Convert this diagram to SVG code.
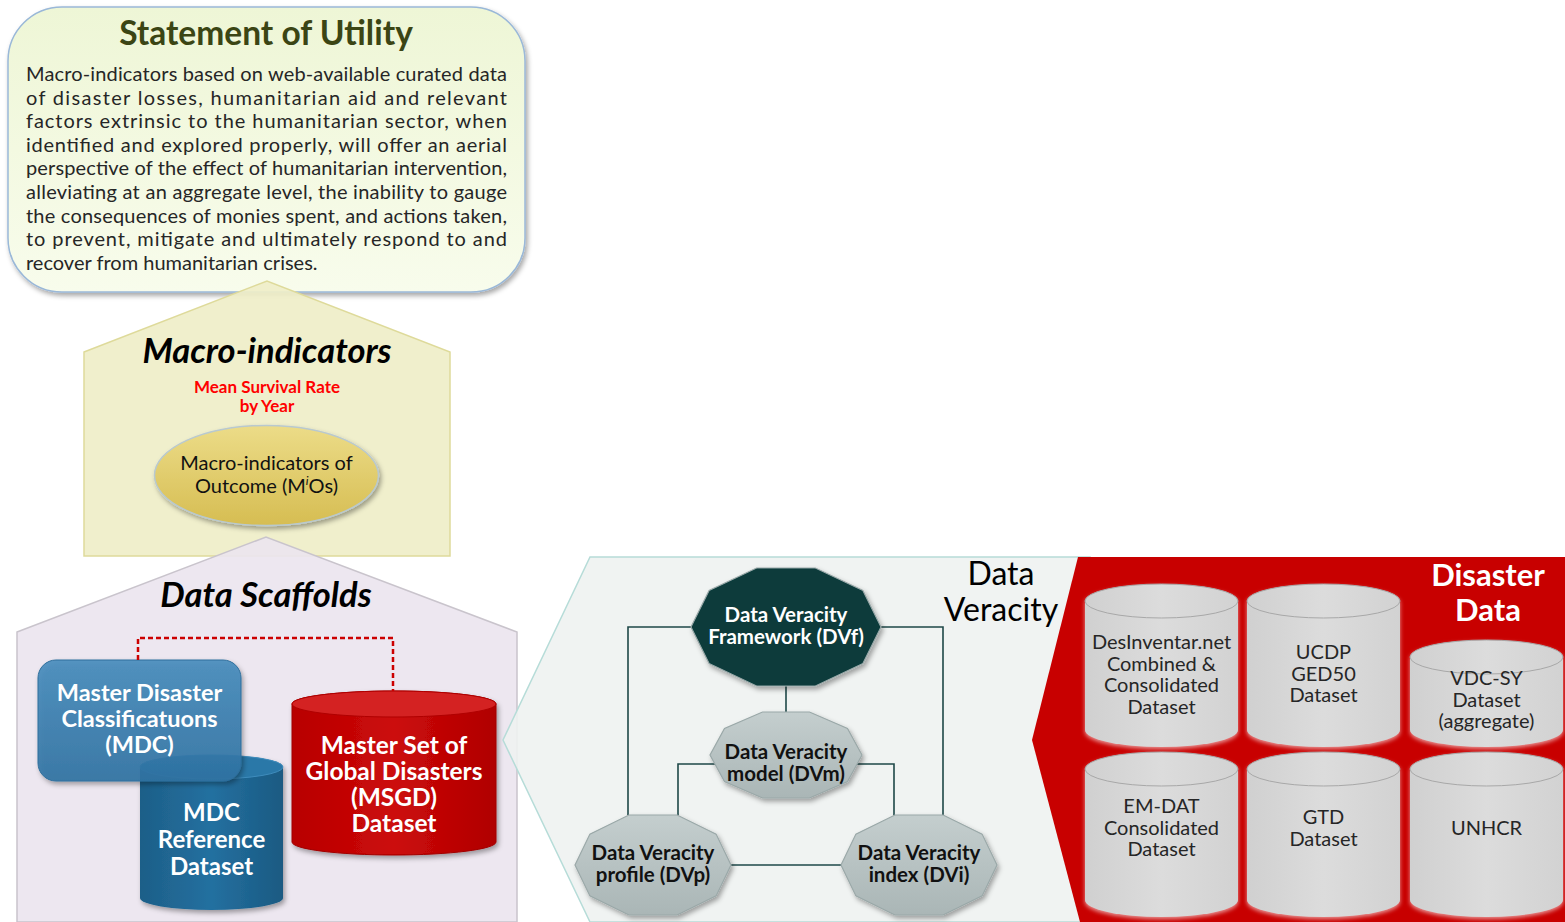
<svg xmlns="http://www.w3.org/2000/svg" width="1565" height="922" viewBox="0 0 1565 922">
<defs>
<style>
.t{font-family:Lato,"Liberation Sans",sans-serif}
.body{font-size:20px;fill:#262626}
.ttl{font-size:34.5px;font-weight:bold;font-style:italic;fill:#000;text-anchor:middle}
.wb{font-weight:bold;fill:#fff;text-anchor:middle}
.gc{font-size:20px;fill:#262626;text-anchor:middle}
.dv{font-size:20.5px;font-weight:bold;text-anchor:middle}
.cyl{fill:url(#gGray);filter:url(#glow)}
.cylTop{fill:none;stroke:#a8a8a8;stroke-width:1}
.conn{fill:none;stroke:#1e4848;stroke-width:1.6}
.deca{stroke:#9aa8a8;stroke-width:1.2;filter:url(#sh)}
</style>
<linearGradient id="gSou" x1="0" y1="0" x2="0" y2="1"><stop offset="0" stop-color="#eef6d6"/><stop offset="1" stop-color="#f8fcec"/></linearGradient>
<linearGradient id="gGold" x1="0" y1="0" x2="0" y2="1"><stop offset="0" stop-color="#ecdc88"/><stop offset="1" stop-color="#d6bd52"/></linearGradient>
<linearGradient id="gMdc" x1="0" y1="0" x2="0" y2="1"><stop offset="0" stop-color="#468cbd"/><stop offset="1" stop-color="#2f73a3"/></linearGradient>
<linearGradient id="gCylB" x1="0" y1="0" x2="1" y2="0"><stop offset="0" stop-color="#1d5f88"/><stop offset="0.5" stop-color="#2470a0"/><stop offset="1" stop-color="#1a5a82"/></linearGradient>
<linearGradient id="gCylR" x1="0" y1="0" x2="1" y2="0"><stop offset="0" stop-color="#b80000"/><stop offset="0.5" stop-color="#cc0a0a"/><stop offset="1" stop-color="#b00000"/></linearGradient>
<linearGradient id="gGray" x1="0" y1="0" x2="1" y2="0"><stop offset="0" stop-color="#d0d0d0"/><stop offset="0.5" stop-color="#dcdcdc"/><stop offset="1" stop-color="#d2d2d2"/></linearGradient>
<linearGradient id="gDeca" x1="0" y1="0" x2="0" y2="1"><stop offset="0" stop-color="#c4cece"/><stop offset="1" stop-color="#aab6b6"/></linearGradient>
<filter id="sh" x="-15%" y="-15%" width="140%" height="140%"><feDropShadow dx="2" dy="3" stdDeviation="2.5" flood-color="#000" flood-opacity="0.35"/></filter>
<filter id="glow" x="-10%" y="-10%" width="120%" height="125%"><feDropShadow dx="0" dy="2" stdDeviation="2" flood-color="#ffffff" flood-opacity="0.6"/></filter>
</defs>
<rect width="1565" height="922" fill="#ffffff"/>

<g id="statement">
<rect x="8" y="7" width="517" height="285" rx="54" ry="54" fill="url(#gSou)" stroke="#9ab8d8" stroke-width="1.5" filter="url(#sh)"/>
<text class="t" x="266" y="45" font-size="33.5" font-weight="bold" fill="#3b4514" text-anchor="middle">Statement of Utility</text>
<text class="t body" x="26" y="81" textLength="481" lengthAdjust="spacing">Macro-indicators based on web-available curated data</text>
<text class="t body" x="26" y="104.6" textLength="481" lengthAdjust="spacing">of disaster losses, humanitarian aid and relevant</text>
<text class="t body" x="26" y="128.2" textLength="481" lengthAdjust="spacing">factors extrinsic to the humanitarian sector, when</text>
<text class="t body" x="26" y="151.8" textLength="481" lengthAdjust="spacing">identified and explored properly, will offer an aerial</text>
<text class="t body" x="26" y="175.4" textLength="481" lengthAdjust="spacing">perspective of the effect of humanitarian intervention,</text>
<text class="t body" x="26" y="199" textLength="481" lengthAdjust="spacing">alleviating at an aggregate level, the inability to gauge</text>
<text class="t body" x="26" y="222.6" textLength="481" lengthAdjust="spacing">the consequences of monies spent, and actions taken,</text>
<text class="t body" x="26" y="246.2" textLength="481" lengthAdjust="spacing">to prevent, mitigate and ultimately respond to and</text>
<text class="t body" x="26" y="269.8">recover from humanitarian crises.</text>
</g>

<g id="macro-indicators">
<polygon points="84,352 267,281 450,352 450,556 84,556" fill="#efeec8" fill-opacity="0.92" stroke="#deda9a" stroke-width="1.5"/>
<text class="t ttl" x="267" y="363">Macro-indicators</text>
<text class="t" x="267" y="393" font-size="17" font-weight="bold" fill="#ff0000" text-anchor="middle">Mean Survival Rate</text>
<text class="t" x="267" y="412" font-size="17" font-weight="bold" fill="#ff0000" text-anchor="middle">by Year</text>
</g>

<g id="mios">
<ellipse cx="266.5" cy="475.5" rx="112" ry="50" fill="url(#gGold)" stroke="#b9c9cf" stroke-width="1.5" filter="url(#sh)"/>
<text class="t" x="266.5" y="470" font-size="20" fill="#111" text-anchor="middle">Macro-indicators of</text>
<text class="t" x="266.5" y="493" font-size="20" fill="#111" text-anchor="middle">Outcome (M<tspan font-size="12" font-style="italic" dy="-8">i</tspan><tspan dy="8">Os)</tspan></text>
</g>

<g id="data-scaffolds">
<polygon points="17,632 266,537 517,632 517,922 17,922" fill="#ebe5ef" fill-opacity="0.92" stroke="#c9c4cc" stroke-width="1.5"/>
<text class="t ttl" x="266" y="607">Data Scaffolds</text>
</g>

<g id="mdc-reference">
<path d="M140,767 A71.5,12 0 0 1 283,767 V898 A71.5,12 0 0 1 140,898 Z" fill="url(#gCylB)" filter="url(#sh)"/>
<ellipse cx="211.5" cy="767" rx="71.5" ry="12" fill="#2a78a8" stroke="#3f8cbc" stroke-width="1"/>
<text class="t wb" x="211.5" y="821" font-size="24">MDC</text>
<text class="t wb" x="211.5" y="848" font-size="24">Reference</text>
<text class="t wb" x="211.5" y="875" font-size="24">Dataset</text>
</g>

<g id="mdc">
<rect x="38" y="660" width="203" height="121" rx="18" ry="18" fill="url(#gMdc)" fill-opacity="0.9" stroke="#2f6f9c" stroke-width="1" filter="url(#sh)"/>
<text class="t wb" x="139.5" y="701" font-size="23.5">Master Disaster</text>
<text class="t wb" x="139.5" y="727" font-size="23.5">Classificatuons</text>
<text class="t wb" x="139.5" y="753" font-size="23.5">(MDC)</text>
</g>

<g id="msgd">
<path d="M292,704 A102,13 0 0 1 496,704 V842 A102,13 0 0 1 292,842 Z" fill="url(#gCylR)" stroke="#a00000" stroke-width="1" filter="url(#sh)"/>
<ellipse cx="394" cy="704" rx="102" ry="13" fill="#d42222" stroke="#b00000" stroke-width="1"/>
<text class="t wb" x="394" y="754" font-size="24.5">Master Set of</text>
<text class="t wb" x="394" y="780" font-size="24.5">Global Disasters</text>
<text class="t wb" x="394" y="806" font-size="24.5">(MSGD)</text>
<text class="t wb" x="394" y="832" font-size="24.5">Dataset</text>
</g>

<g id="data-veracity-region">
<polygon points="590,557 1090,557 1090,922 590,922 503,740" fill="#eef2f1" fill-opacity="0.9" stroke="#b6dcd8" stroke-width="1.5"/>
<text class="t" x="1001" y="585" font-size="32" fill="#000" text-anchor="middle">Data</text>
<text class="t" x="1001" y="621" font-size="32" fill="#000" text-anchor="middle">Veracity</text>
</g>

<g id="disaster-data-region">
<polygon points="1078,557 1565,557 1565,922 1080,922 1032,740" fill="#c80000"/>
<text class="t" x="1488" y="586" font-size="31" font-weight="bold" fill="#fff" text-anchor="middle">Disaster</text>
<text class="t" x="1488" y="621" font-size="31" font-weight="bold" fill="#fff" text-anchor="middle">Data</text>
</g>

<g id="connectors">
<path d="M138,660 V638 H393 V691" fill="none" stroke="#cc0000" stroke-width="2.5" stroke-dasharray="5,3"/>
<path class="conn" d="M691,627 H628 V815"/>
<path class="conn" d="M881,627 H943 V815"/>
<path class="conn" d="M786,686 V712"/>
<path class="conn" d="M715,764 H678 V815.5"/>
<path class="conn" d="M857,764 H894 V815.5"/>
<path class="conn" d="M731,865 H841"/>
</g>

<g id="dvf">
<polygon class="deca" points="881,627 862.9,663.5 815.4,686 756.6,686 709.1,663.5 691,627 709.1,590.5 756.6,568 815.4,568 862.9,590.5" fill="#073b3b" stroke="#1a4f4f"/>
<text class="t dv" x="786" y="622" fill="#fff">Data Veracity</text>
<text class="t dv" x="786" y="644" fill="#fff">Framework (DVf)</text>
</g>

<g id="dvm">
<polygon class="deca" points="862,755 847.5,781.6 809.5,798 762.5,798 724.5,781.6 710,755 724.5,728.4 762.5,712 809.5,712 847.5,728.4" fill="url(#gDeca)"/>
<text class="t dv" x="786" y="759" fill="#111">Data Veracity</text>
<text class="t dv" x="786" y="781" fill="#111">model (DVm)</text>
</g>

<g id="dvp">
<polygon class="deca" points="731,865 716.1,895.9 677.1,915 628.9,915 589.9,895.9 575,865 589.9,834.1 628.9,815 677.1,815 716.1,834.1" fill="url(#gDeca)"/>
<text class="t dv" x="653" y="860" fill="#111">Data Veracity</text>
<text class="t dv" x="653" y="882" fill="#111">profile (DVp)</text>
</g>

<g id="dvi">
<polygon class="deca" points="997,865 982.1,895.9 943.1,915 894.9,915 855.9,895.9 841,865 855.9,834.1 894.9,815 943.1,815 982.1,834.1" fill="url(#gDeca)"/>
<text class="t dv" x="919" y="860" fill="#111">Data Veracity</text>
<text class="t dv" x="919" y="882" fill="#111">index (DVi)</text>
</g>

<g id="desinventar">
<path class="cyl" d="M1085,601 A76.5,17 0 0 1 1238,601 V730 A76.5,17 0 0 1 1085,730 Z"/>
<ellipse class="cylTop" cx="1161.5" cy="601" rx="76.5" ry="17"/>
<text class="t gc" x="1161.5" y="649">DesInventar.net</text>
<text class="t gc" x="1161.5" y="670.5">Combined &amp;</text>
<text class="t gc" x="1161.5" y="692">Consolidated</text>
<text class="t gc" x="1161.5" y="713.5">Dataset</text>
</g>

<g id="ucdp">
<path class="cyl" d="M1247,601 A76.5,17 0 0 1 1400,601 V730 A76.5,17 0 0 1 1247,730 Z"/>
<ellipse class="cylTop" cx="1323.5" cy="601" rx="76.5" ry="17"/>
<text class="t gc" x="1323.5" y="659">UCDP</text>
<text class="t gc" x="1323.5" y="680.5">GED50</text>
<text class="t gc" x="1323.5" y="702">Dataset</text>
</g>

<g id="vdc-sy">
<path class="cyl" d="M1410,657 A76.5,17 0 0 1 1563,657 V730 A76.5,17 0 0 1 1410,730 Z"/>
<ellipse class="cylTop" cx="1486.5" cy="657" rx="76.5" ry="17"/>
<text class="t gc" x="1486.5" y="685">VDC-SY</text>
<text class="t gc" x="1486.5" y="706.5">Dataset</text>
<text class="t gc" x="1486.5" y="728">(aggregate)</text>
</g>

<g id="em-dat">
<path class="cyl" d="M1085,769 A76.5,17 0 0 1 1238,769 V900 A76.5,17 0 0 1 1085,900 Z"/>
<ellipse class="cylTop" cx="1161.5" cy="769" rx="76.5" ry="17"/>
<text class="t gc" x="1161.5" y="813">EM-DAT</text>
<text class="t gc" x="1161.5" y="834.5">Consolidated</text>
<text class="t gc" x="1161.5" y="856">Dataset</text>
</g>

<g id="gtd">
<path class="cyl" d="M1247,769 A76.5,17 0 0 1 1400,769 V900 A76.5,17 0 0 1 1247,900 Z"/>
<ellipse class="cylTop" cx="1323.5" cy="769" rx="76.5" ry="17"/>
<text class="t gc" x="1323.5" y="824">GTD</text>
<text class="t gc" x="1323.5" y="845.5">Dataset</text>
</g>

<g id="unhcr">
<path class="cyl" d="M1410,769 A76.5,17 0 0 1 1563,769 V900 A76.5,17 0 0 1 1410,900 Z"/>
<ellipse class="cylTop" cx="1486.5" cy="769" rx="76.5" ry="17"/>
<text class="t gc" x="1486.5" y="835">UNHCR</text>
</g>
</svg>
